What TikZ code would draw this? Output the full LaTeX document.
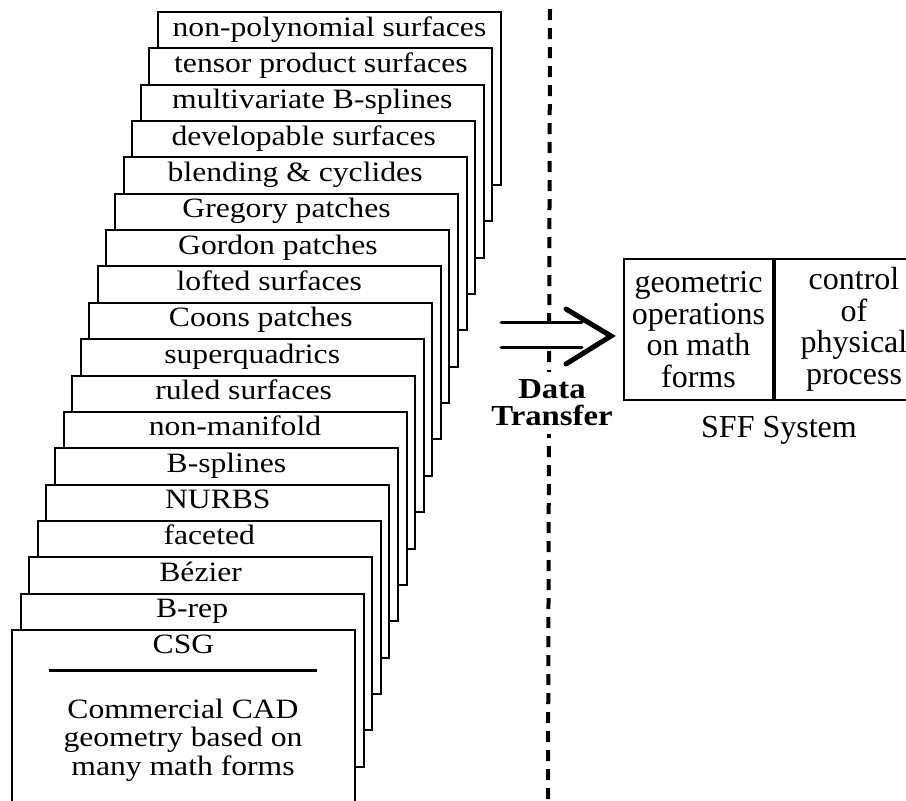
\documentclass[tikz,border=0pt]{standalone}
\usepackage{fontspec}
\setmainfont{Liberation Serif}[FakeStretch=1.13]
\newfontfamily\sysfont{Liberation Serif}
\usetikzlibrary{positioning}

\begin{document}
\begin{tikzpicture}
    [x=0.5pt,y=-0.5pt,inner sep=0pt,
     card/.style={rectangle,draw=black,fill=white,line width=1pt,
       minimum width=171.5pt,minimum height=86.5pt,anchor=north west},
     cardtext/.style={font=\fontsize{14}{14.3}\selectfont,anchor=base},
     cell/.style={rectangle,draw=black,line width=1pt,align=center,
       minimum height=70.5pt,
       font=\sysfont\fontsize{16}{15.75}\selectfont},
     shaft/.style={line width=1.5pt,line cap=round},
     head/.style={line width=2.5pt,line cap=round,line join=miter}]
    \useasboundingbox [fill=white] (0,0) rectangle (906,800);
    % dashed divider
    \draw [line width=2pt,dash pattern=on 5.5pt off 4pt] (550,9) -- (548,800);
    % stack of cards, back to front
    \foreach \txt [count=\i] in {non-polynomial surfaces,tensor product surfaces,
        multivariate B-splines,developable surfaces,blending \& cyclides,
        Gregory patches,Gordon patches,lofted surfaces,Coons patches,
        superquadrics,ruled surfaces,non-manifold,B-splines,NURBS,faceted,
        Bézier,B-rep,CSG}
      {
      \node (card\i) at ({157-8.59*(\i-1)},{11+36.35*(\i-1)}) [card] {};
      \node (name\i) at ([yshift=-12.5pt]card\i.north) [cardtext] {\txt};
      }
    \draw [line width=1.5pt] ([xshift=19pt,yshift=-21pt]card18.north west) -- ++(268,0);
    \node (cadnote) at (183,740) [align=center,font=\fontsize{14}{14.3}\selectfont]
      {Commercial CAD\\geometry based on\\many math forms};
    % transfer arrow
    \coordinate (tail) at (501,334.5);
    \coordinate (tip) at (611,336);
    \fill [white] (tail) ++(0,-12.5) rectangle ++(81,25);
    \draw [shaft] (tail) ++(0,-12.5) -- ++(81,0);
    \draw [shaft] (tail) ++(0,12.5) -- ++(81,0);
    \draw [head] (tip) ++(-45,-27) -- (tip) -- ++(-45,28);
    \node (xfer) at (552,403) [fill=white,inner sep=4pt,align=center,
      font=\bfseries\fontsize{14.5}{13.5}\selectfont] {Data\\Transfer};
    % SFF system
    \node (geo) at (623,258) [cell,anchor=north west,minimum width=74.5pt]
      {geometric\\operations\\on math\\forms};
    \node (ctrl) [cell,right=0pt of geo,minimum width=79pt]
      {control\\of\\physical\\process};
    \node (sff) at (779,437) [anchor=base,font=\sysfont\fontsize{16}{16}\selectfont]
      {SFF System};
  \end{tikzpicture}
\end{document}
